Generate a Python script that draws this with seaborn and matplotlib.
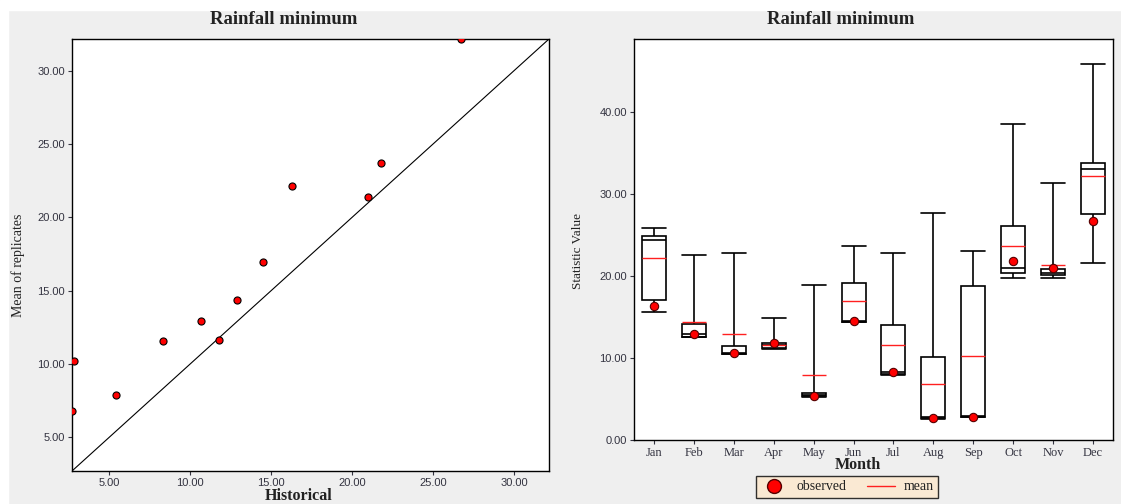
import numpy as np
import pandas as pd
import matplotlib
matplotlib.use("Agg")
import matplotlib.pyplot as plt
import seaborn as sns
from matplotlib.lines import Line2D
from matplotlib.patches import Rectangle
from matplotlib.ticker import FormatStrFormatter

# --- data ---
months = ["Jan", "Feb", "Mar", "Apr", "May", "Jun",
          "Jul", "Aug", "Sep", "Oct", "Nov", "Dec"]
observed = [16.3, 12.9, 10.65, 11.8, 5.4, 14.5, 8.3, 2.7, 2.85, 21.8, 20.95, 26.7]
mean = [22.15, 14.35, 12.95, 11.6, 7.9, 16.95, 11.55, 6.8, 10.2, 23.7, 21.35, 32.15]
whisker_low = [15.65, 12.5, 10.45, 11.05, 5.3, 14.35, 7.95, 2.6, 2.75, 19.75, 19.7, 21.6]
q1 = [17.05, 12.6, 10.5, 11.25, 5.35, 14.4, 8.1, 2.65, 2.8, 20.35, 20.1, 27.55]
median = [24.35, 12.9, 10.55, 11.55, 5.5, 14.5, 8.25, 2.75, 2.9, 20.95, 20.4, 33.0]
q3 = [24.9, 14.15, 11.5, 11.8, 5.7, 19.2, 14.0, 10.1, 18.75, 26.15, 20.9, 33.8]
whisker_high = [25.8, 22.6, 22.75, 14.85, 18.9, 23.65, 22.75, 27.65, 23.05, 38.5, 31.4, 45.9]
value_ticks = [0, 10, 20, 30, 40]
scatter_ticks = [5, 10, 15, 20, 25, 30]

# five-number summary in long form, so seaborn's boxplot (whis=inf) reproduces it
rows = []
for i, m in enumerate(months):
    for v in (whisker_low[i], q1[i], median[i], q3[i], whisker_high[i]):
        rows.append({"month": m, "value": v})
box_df = pd.DataFrame(rows)

# --- style ---
sns.set_theme(style="ticks")
plt.rcParams["font.family"] = ["Liberation Serif", "DejaVu Serif"]
TXT = "#222222"
TICK_TXT = "#333340"
BG = "#efefef"

fig = plt.figure(figsize=(11.21, 5.04), dpi=100, facecolor=BG)
fig.patches.append(Rectangle((0, 1 - 10 / 504), 1, 10 / 504, transform=fig.transFigure,
                             color="white", zorder=0))
fig.patches.append(Rectangle((0, 0), 8 / 1121, 1, transform=fig.transFigure,
                             color="white", zorder=0))

ax1 = fig.add_axes([72 / 1121, 33 / 504, 477 / 1121, 432 / 504])
ax2 = fig.add_axes([634 / 1121, 64 / 504, 479 / 1121, 401 / 504])

# === left: observed vs mean of replicates ===
lo = min(observed + mean)
hi = max(observed + mean)
ax1.plot([lo, hi], [lo, hi], color="black", lw=0.8, zorder=2)
sns.scatterplot(x=observed, y=mean, ax=ax1, color="red", edgecolor="black",
                linewidth=0.8, s=26, zorder=3)
ax1.set_xlim(lo, hi)
ax1.set_ylim(lo, hi)
ax1.set_xticks(scatter_ticks)
ax1.set_yticks(scatter_ticks)
ax1.xaxis.set_major_formatter(FormatStrFormatter("%.2f"))
ax1.yaxis.set_major_formatter(FormatStrFormatter("%.2f"))
ax1.set_xlabel("Historical", fontsize=11.5, fontweight="bold", color=TXT)
ax1.set_ylabel("Mean of replicates", fontsize=10, color=TXT)
ax1.xaxis.set_label_coords(0.476, -0.04)
ax1.yaxis.set_label_coords(-0.099, 0.477)

# === right: boxplots per month ===
sns.boxplot(data=box_df, x="month", y="value", order=months, whis=np.inf,
            width=0.6, color="white", linecolor="black", linewidth=1.2,
            showfliers=False, capwidths=0.6, ax=ax2)
pos = np.arange(len(months))
ax2.hlines(mean, pos - 0.3, pos + 0.3, colors="#ff2020", lw=1, zorder=4)
sns.scatterplot(x=pos, y=observed, ax=ax2, color="red", edgecolor="#550000",
                linewidth=0.8, s=36, zorder=5)
ax2.set_xlim(-0.5, len(months) - 0.5)
ax2.set_ylim(0, 48.9)
ax2.set_yticks(value_ticks)
ax2.yaxis.set_major_formatter(FormatStrFormatter("%.2f"))
ax2.set_xticks(pos)
ax2.set_xticklabels(months)
ax2.set_xlabel("Month", fontsize=11.5, fontweight="bold", color=TXT)
ax2.set_ylabel("Statistic Value", fontsize=9.5, color=TXT)
ax2.xaxis.set_label_coords(0.468, -0.043)
ax2.yaxis.set_label_coords(-0.104, 0.471)

for ax in (ax1, ax2):
    ax.set_facecolor("white")
    for sp in ax.spines.values():
        sp.set_visible(True)
        sp.set_color("black")
        sp.set_linewidth(1.0)
    ax.tick_params(axis="both", length=3, width=0.8, pad=2, labelsize=8,
                   colors=TICK_TXT, direction="out")
    for lab in ax.get_yticklabels():
        lab.set_family(["Liberation Sans", "DejaVu Sans"])
for lab in ax1.get_xticklabels():
    lab.set_family(["Liberation Sans", "DejaVu Sans"])
for lab in ax2.get_xticklabels():
    lab.set_fontsize(9)

fig.text(284 / 1121, 1 - 19 / 504, "Rainfall minimum", ha="center", va="center",
         fontsize=13.5, fontweight="bold", color=TXT)
fig.text(841 / 1121, 1 - 19 / 504, "Rainfall minimum", ha="center", va="center",
         fontsize=13.5, fontweight="bold", color=TXT)

handles = [
    Line2D([], [], marker="o", ls="", markerfacecolor="red", markeredgecolor="#550000",
           markersize=10, label="observed"),
    Line2D([], [], color="#ff2020", lw=1, label="mean"),
]
leg = fig.legend(handles=handles, loc="center", bbox_to_anchor=(847 / 1121, 1 - 487 / 504),
                 ncol=2, frameon=True, fancybox=False, fontsize=10, handlelength=2,
                 columnspacing=1.5, borderpad=0.3, handletextpad=0.6)
leg.get_frame().set_facecolor("#fde8cc")
leg.get_frame().set_edgecolor("black")
leg.get_frame().set_linewidth(1.0)
for t in leg.get_texts():
    t.set_color(TXT)

fig.savefig("out.png", dpi=100, facecolor=fig.get_facecolor())
